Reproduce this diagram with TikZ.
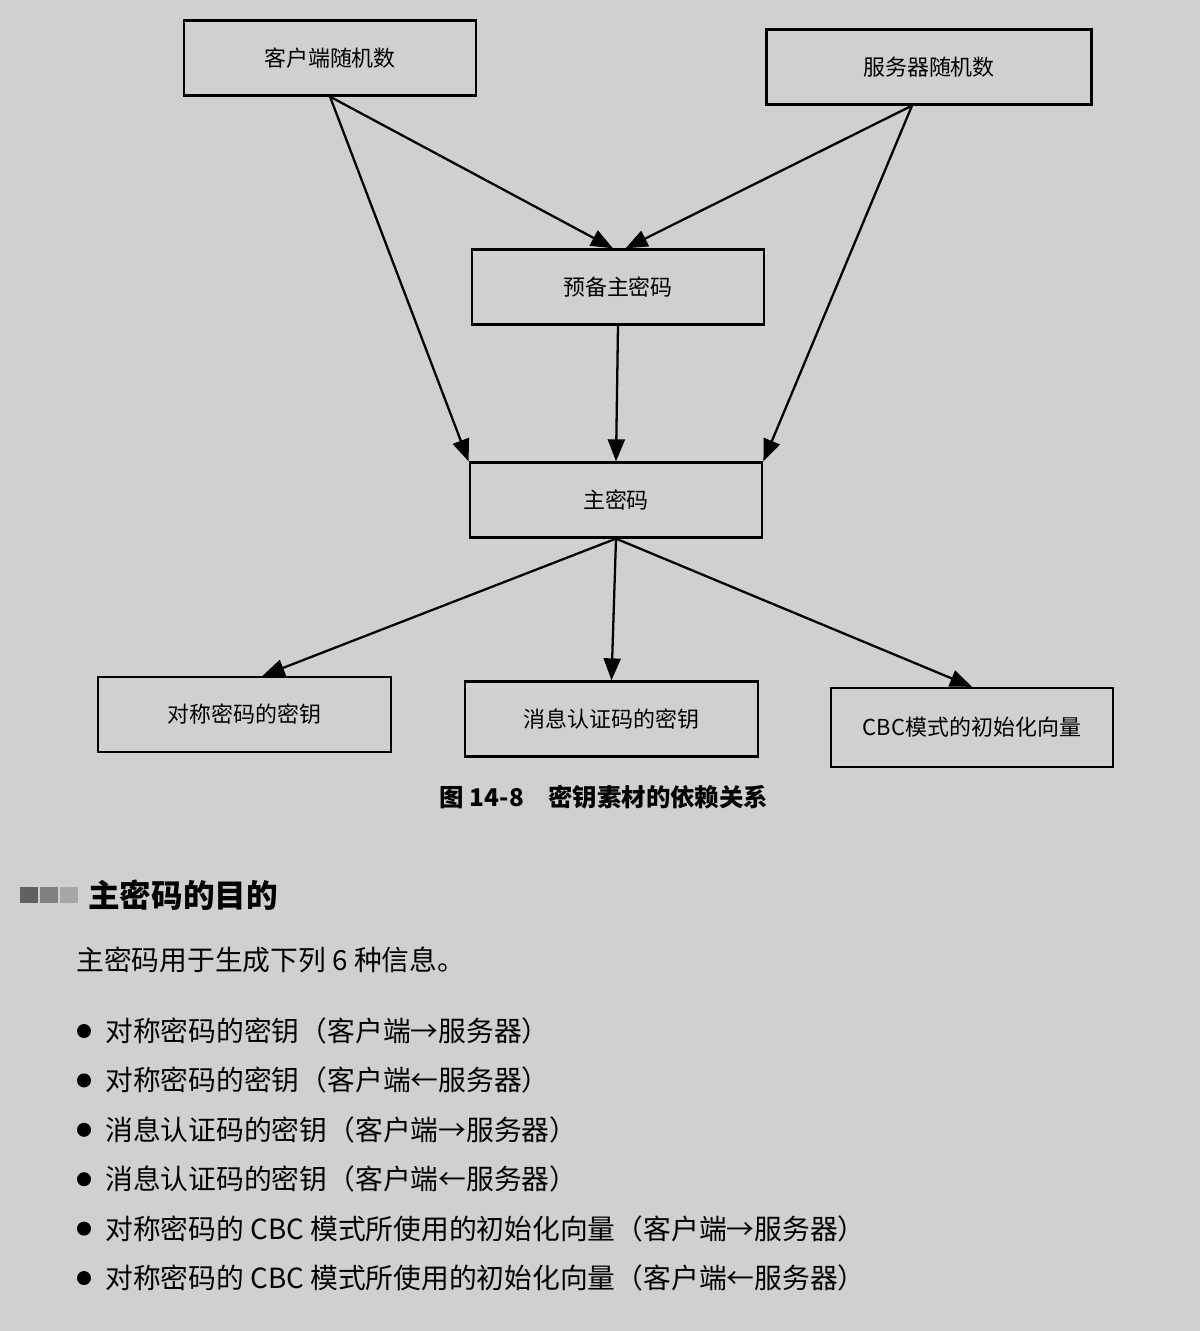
\documentclass[tikz,border=0pt]{standalone}
\usepackage{fontspec}
\newfontfamily\cjk{Noto Sans CJK SC}
\usetikzlibrary{arrows.meta}
\definecolor{zhi}{RGB}{208,208,206}
\begin{document}
\begin{tikzpicture}[
    kuang/.style={draw, line width=1.3pt, minimum width=5.85cm, minimum height=1.5cm, font=\cjk\fontsize{12.5}{14}\selectfont},
    jiantou/.style={line width=1.3pt, -{Triangle[length=0.44cm,width=0.34cm]}},
    hang/.style={anchor=west, inner sep=0pt, font=\cjk\fontsize{15.8}{18}\selectfont}
]
\fill[zhi] (0,0) rectangle (24,-26.62);
\useasboundingbox (0,0) rectangle (24,-26.62);

\node[kuang] (kehu) at (6.6,-1.16) {客户端随机数};
\node[kuang, minimum width=6.5cm] (fuwu) at (18.58,-1.34) {服务器随机数};
\node[kuang] (yubei) at (12.36,-5.74) {预备主密码};
\node[kuang] (zhu) at (12.32,-10.0) {主密码};
\node[kuang] (duichen) at (4.89,-14.29) {对称密码的密钥};
\node[kuang] (xiaoxi) at (12.23,-14.38) {消息认证码的密钥};
\node[kuang, minimum width=5.64cm, minimum height=1.58cm] (cbc) at (19.44,-14.55) {CBC模式的初始化向量};

\draw[jiantou] (kehu.south) -- ([xshift=-0.1cm]yubei.north);
\draw[jiantou] (kehu.south) -- (zhu.north west);
\draw[jiantou] ([xshift=-0.34cm]fuwu.south) -- ([xshift=0.15cm]yubei.north);
\draw[jiantou] ([xshift=-0.34cm]fuwu.south) -- (zhu.north east);
\draw[jiantou] (yubei.south) -- (zhu.north);
\draw[jiantou] (zhu.south) -- ([xshift=0.36cm]duichen.north);
\draw[jiantou] (zhu.south) -- (xiaoxi.north);
\draw[jiantou] (zhu.south) -- (cbc.north);

\node[font=\cjk\bfseries\fontsize{13.9}{16}\selectfont] (titi) at (12.08,-15.94) {图 14-8\quad 密钥素材的依赖关系};

\fill[black!62] (0.4,-17.74) rectangle (0.76,-18.06);
\fill[black!50] (0.8,-17.74) rectangle (1.16,-18.06);
\fill[black!35] (1.2,-17.74) rectangle (1.56,-18.06);
\node[hang, font=\cjk\bfseries\fontsize{18}{20}\selectfont] (biaoti) at (1.76,-17.9) {主密码的目的};
\node[hang] (shuoming) at (1.52,-19.2) {主密码用于生成下列 6 种信息。};

\foreach \t [count=\i] in {
    对称密码的密钥（客户端→服务器）,
    对称密码的密钥（客户端←服务器）,
    消息认证码的密钥（客户端→服务器）,
    消息认证码的密钥（客户端←服务器）,
    对称密码的 CBC 模式所使用的初始化向量（客户端→服务器）,
    对称密码的 CBC 模式所使用的初始化向量（客户端←服务器）}
{
    \fill (1.68,{-20.62-0.988*(\i-1)}) circle (0.14);
    \node[hang] (xiang\i) at (2.1,{-20.62-0.988*(\i-1)}) {\t};
}
\end{tikzpicture}
\end{document}
